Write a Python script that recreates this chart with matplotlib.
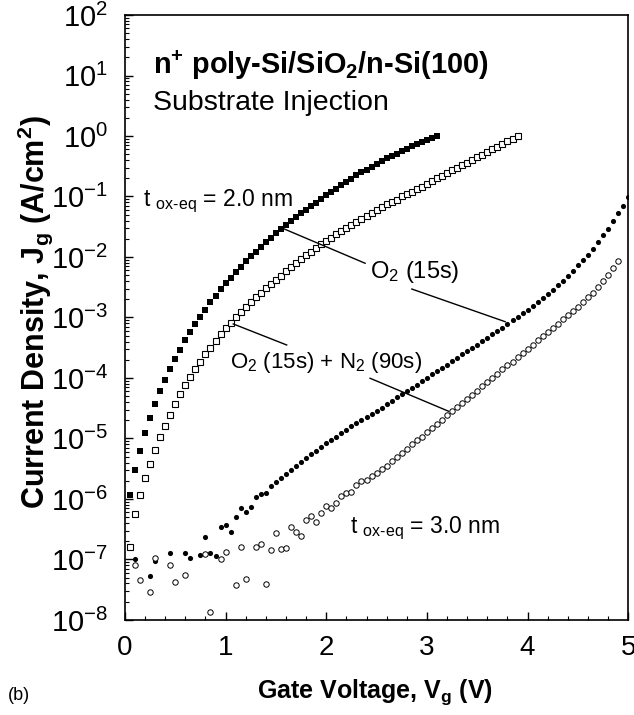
import numpy as np
import matplotlib.pyplot as plt
from matplotlib.ticker import LogLocator, MultipleLocator, NullFormatter

plt.rcParams['font.family'] = 'Liberation Sans'
plt.rcParams['mathtext.fontset'] = 'custom'
plt.rcParams['mathtext.rm'] = 'Liberation Sans'
plt.rcParams['mathtext.it'] = 'Liberation Sans:italic'
plt.rcParams['mathtext.bf'] = 'Liberation Sans:bold'

# 2.0 nm, O2 (15s)  -- filled squares, log10(J) in A/cm^2
v_20_o2 = [0.05, 0.10, 0.15, 0.20, 0.25, 0.30, 0.35, 0.40, 0.45, 0.50,
           0.55, 0.60, 0.65, 0.70, 0.75, 0.80, 0.85, 0.90, 0.95, 1.00,
           1.05, 1.10, 1.15, 1.20, 1.25, 1.30, 1.35, 1.40, 1.45, 1.50,
           1.55, 1.60, 1.65, 1.70, 1.75, 1.80, 1.85, 1.90, 1.95, 2.00,
           2.05, 2.10, 2.15, 2.20, 2.25, 2.30, 2.35, 2.40, 2.45, 2.50,
           2.55, 2.60, 2.65, 2.70, 2.75, 2.80, 2.85, 2.90, 2.95, 3.00,
           3.05, 3.10]
logj_20_o2 = [-5.93, -5.52, -5.20, -4.91, -4.66, -4.43, -4.22, -4.03, -3.85, -3.69,
              -3.53, -3.38, -3.24, -3.11, -2.99, -2.87, -2.75, -2.64, -2.53, -2.43,
              -2.34, -2.25, -2.16, -2.07, -1.99, -1.91, -1.83, -1.75, -1.68, -1.61,
              -1.54, -1.47, -1.40, -1.34, -1.28, -1.22, -1.16, -1.10, -1.04, -0.98,
              -0.92, -0.87, -0.81, -0.76, -0.71, -0.65, -0.60, -0.56, -0.51, -0.46,
              -0.42, -0.37, -0.33, -0.29, -0.25, -0.21, -0.17, -0.13, -0.10, -0.06,
              -0.03, 0.00]

# 2.0 nm, O2 (15s) + N2 (90s)  -- open squares
v_20_n2 = [0.05, 0.10, 0.15, 0.20, 0.25, 0.30, 0.35, 0.40, 0.45, 0.50,
           0.55, 0.60, 0.65, 0.70, 0.75, 0.80, 0.85, 0.90, 0.95, 1.00,
           1.05, 1.10, 1.15, 1.20, 1.25, 1.30, 1.35, 1.40, 1.45, 1.50,
           1.55, 1.60, 1.65, 1.70, 1.75, 1.80, 1.85, 1.90, 1.95, 2.00,
           2.05, 2.10, 2.15, 2.20, 2.25, 2.30, 2.35, 2.40, 2.45, 2.50,
           2.55, 2.60, 2.65, 2.70, 2.75, 2.80, 2.85, 2.90, 2.95, 3.00,
           3.05, 3.10, 3.15, 3.20, 3.25, 3.30, 3.35, 3.40, 3.45, 3.50,
           3.55, 3.60, 3.65, 3.70, 3.75, 3.80, 3.85, 3.90]
logj_20_n2 = [-6.79, -6.25, -5.93, -5.66, -5.42, -5.19, -4.98, -4.79, -4.61, -4.43,
              -4.27, -4.12, -3.99, -3.86, -3.73, -3.61, -3.50, -3.39, -3.28, -3.18,
              -3.09, -3.00, -2.91, -2.83, -2.75, -2.67, -2.59, -2.52, -2.45, -2.38,
              -2.31, -2.24, -2.17, -2.10, -2.04, -1.97, -1.91, -1.85, -1.79, -1.73,
              -1.68, -1.62, -1.57, -1.52, -1.47, -1.42, -1.37, -1.32, -1.27, -1.23,
              -1.18, -1.13, -1.09, -1.05, -1.00, -0.96, -0.92, -0.88, -0.84, -0.79,
              -0.75, -0.70, -0.66, -0.62, -0.57, -0.53, -0.48, -0.44, -0.40, -0.35,
              -0.31, -0.26, -0.22, -0.18, -0.13, -0.09, -0.05, 0.00]

# 3.0 nm, O2 (15s)  -- filled circles
v_30_o2 = [0.10, 0.25, 0.30, 0.45, 0.60, 0.65, 0.75, 0.80, 0.85, 0.90,
           0.95, 1.00, 1.05, 1.10, 1.15, 1.20, 1.25, 1.30, 1.35, 1.40,
           1.45, 1.50, 1.55, 1.60, 1.65, 1.70, 1.75, 1.80, 1.85, 1.90,
           1.95, 2.00, 2.05, 2.10, 2.15, 2.20, 2.25, 2.30, 2.35, 2.40,
           2.45, 2.50, 2.55, 2.60, 2.65, 2.70, 2.75, 2.80, 2.85, 2.90,
           2.95, 3.00, 3.05, 3.10, 3.15, 3.20, 3.25, 3.30, 3.35, 3.40,
           3.45, 3.50, 3.55, 3.60, 3.65, 3.70, 3.75, 3.80, 3.85, 3.90,
           3.95, 4.00, 4.05, 4.10, 4.15, 4.20, 4.25, 4.30, 4.35, 4.40,
           4.45, 4.50, 4.55, 4.60, 4.65, 4.70, 4.75, 4.80, 4.85, 4.90,
           4.95, 5.00]
logj_30_o2 = [-6.99, -7.27, -7.02, -6.89, -6.90, -6.97, -6.93, -6.63, -6.90, -6.95,
              -6.47, -6.43, -6.55, -6.30, -6.15, -6.21, -6.13, -5.97, -5.92, -5.91,
              -5.79, -5.72, -5.65, -5.59, -5.52, -5.45, -5.39, -5.33, -5.26, -5.20,
              -5.14, -5.08, -5.02, -4.97, -4.91, -4.86, -4.80, -4.75, -4.70, -4.64,
              -4.59, -4.54, -4.49, -4.43, -4.38, -4.32, -4.27, -4.22, -4.16, -4.11,
              -4.05, -4.00, -3.94, -3.89, -3.83, -3.78, -3.72, -3.67, -3.61, -3.56,
              -3.50, -3.45, -3.39, -3.34, -3.28, -3.22, -3.17, -3.11, -3.05, -2.99,
              -2.93, -2.87, -2.81, -2.74, -2.68, -2.61, -2.54, -2.47, -2.39, -2.31,
              -2.23, -2.14, -2.05, -1.96, -1.86, -1.75, -1.64, -1.53, -1.41, -1.28,
              -1.15, -1.01]

# 3.0 nm, O2 (15s) + N2 (90s)  -- open circles
v_30_n2 = [0.10, 0.15, 0.25, 0.30, 0.45, 0.50, 0.60, 0.80, 0.85, 0.95,
           1.00, 1.10, 1.15, 1.20, 1.30, 1.35, 1.40, 1.45, 1.50, 1.55,
           1.60, 1.65, 1.70, 1.75, 1.80, 1.85, 1.90, 1.95, 2.00, 2.05,
           2.10, 2.15, 2.20, 2.25, 2.30, 2.35, 2.40, 2.45, 2.50, 2.55,
           2.60, 2.65, 2.70, 2.75, 2.80, 2.85, 2.90, 2.95, 3.00, 3.05,
           3.10, 3.15, 3.20, 3.25, 3.30, 3.35, 3.40, 3.45, 3.50, 3.55,
           3.60, 3.65, 3.70, 3.75, 3.80, 3.85, 3.90, 3.95, 4.00, 4.05,
           4.10, 4.15, 4.20, 4.25, 4.30, 4.35, 4.40, 4.45, 4.50, 4.55,
           4.60, 4.65, 4.70, 4.75, 4.80, 4.85, 4.90]
logj_30_n2 = [-7.10, -7.34, -7.54, -6.98, -7.10, -7.38, -7.26, -6.91, -7.87, -7.00,
              -6.88, -7.43, -6.79, -7.32, -6.79, -6.74, -7.40, -6.84, -6.56, -6.82,
              -6.81, -6.47, -6.55, -6.61, -6.35, -6.29, -6.38, -6.24, -6.12, -6.15,
              -6.06, -5.95, -5.91, -5.88, -5.77, -5.70, -5.69, -5.62, -5.57, -5.51,
              -5.45, -5.38, -5.31, -5.24, -5.17, -5.10, -5.03, -4.97, -4.90, -4.83,
              -4.76, -4.69, -4.62, -4.55, -4.48, -4.41, -4.35, -4.28, -4.21, -4.14,
              -4.07, -4.00, -3.93, -3.86, -3.79, -3.73, -3.66, -3.59, -3.52, -3.45,
              -3.38, -3.31, -3.24, -3.17, -3.10, -3.03, -2.96, -2.89, -2.82, -2.75,
              -2.67, -2.59, -2.50, -2.40, -2.30, -2.19, -2.07]

fig = plt.figure(figsize=(6.34, 7.15), dpi=100)
ax = fig.add_axes([0.197, 0.133, 0.794, 0.846])

ax.semilogy(v_20_o2, 10 ** np.array(logj_20_o2), 's', ms=3.8, color='k', mew=0)
ax.semilogy(v_20_n2, 10 ** np.array(logj_20_n2), 's', ms=4.0, mfc='white', mec='k', mew=0.8)
ax.semilogy(v_30_o2, 10 ** np.array(logj_30_o2), 'o', ms=3.7, color='k', mew=0)
ax.semilogy(v_30_n2, 10 ** np.array(logj_30_n2), 'o', ms=3.9, mfc='white', mec='k', mew=0.7)

ax.set_xlim(0, 5)
ax.set_ylim(1e-8, 1e2)
ax.xaxis.set_major_locator(MultipleLocator(1))
ax.xaxis.set_minor_locator(MultipleLocator(0.2))
ax.yaxis.set_major_locator(LogLocator(base=10, numticks=20))
ax.yaxis.set_minor_locator(LogLocator(base=10, subs=np.arange(2, 10), numticks=20))
ax.yaxis.set_minor_formatter(NullFormatter())
ax.tick_params(which='both', direction='in', top=False, right=False)
ax.tick_params(which='major', length=6, width=1)
ax.tick_params(which='minor', length=3, width=0.8)
ax.tick_params(axis='y', pad=12, labelsize=21)
ax.tick_params(axis='x', pad=11, labelsize=20)
for sp in ax.spines.values():
    sp.set_linewidth(1.2)

# leader lines
ax.plot([1.567, 2.386], [10 ** -1.526, 10 ** -2.104], color='k', lw=1)
ax.plot([2.85, 3.777], [10 ** -2.53, 10 ** -3.07], color='k', lw=1)
ax.plot([1.076, 1.607], [10 ** -3.107, 10 ** -3.455], color='k', lw=1)
ax.plot([2.435, 3.214], [10 ** -4.005, 10 ** -4.55], color='k', lw=1)

ax.text(2.43, 10 ** -2.25, r'O$_2$ (15s)', fontsize=17, va='center')
ax.text(1.04, 10 ** -3.75, r'O$_2$ (15s) + N$_2$ (90s)', fontsize=16, va='center')
ax.text(0.18, 10 ** -1.16, r't $_{\mathregular{ox\text{-}eq}}$ = 2.0 nm', fontsize=16.5, va='baseline')
ax.text(2.24, 10 ** -6.56, r't $_{\mathregular{ox\text{-}eq}}$ = 3.0 nm', fontsize=16.5, va='baseline')

ax.text(0.28, 10 ** 1.03, r'n$^{\mathbf{+}}$ poly-Si/SiO$_{\mathbf{2}}$/n-Si(100)',
        fontsize=20.8, fontweight='bold', va='baseline')
ax.text(0.28, 10 ** 0.43, 'Substrate Injection', fontsize=20.5, va='baseline')

fig.text(35 / 634, 1 - 312 / 715, r'Current Density, J$_{\mathbf{g}}$ (A/cm$^{\mathbf{2}}$)',
         rotation=90, fontsize=22, fontweight='bold', ha='center', va='center')
fig.text(375 / 634, 1 - 692 / 715, r'Gate Voltage, V$_{\mathbf{g}}$ (V)',
         fontsize=18, fontweight='bold', ha='center', va='center')
fig.text(8 / 634, 1 - 695 / 715, '(b)', fontsize=13, va='center')

fig.savefig('out.png', dpi=100)
